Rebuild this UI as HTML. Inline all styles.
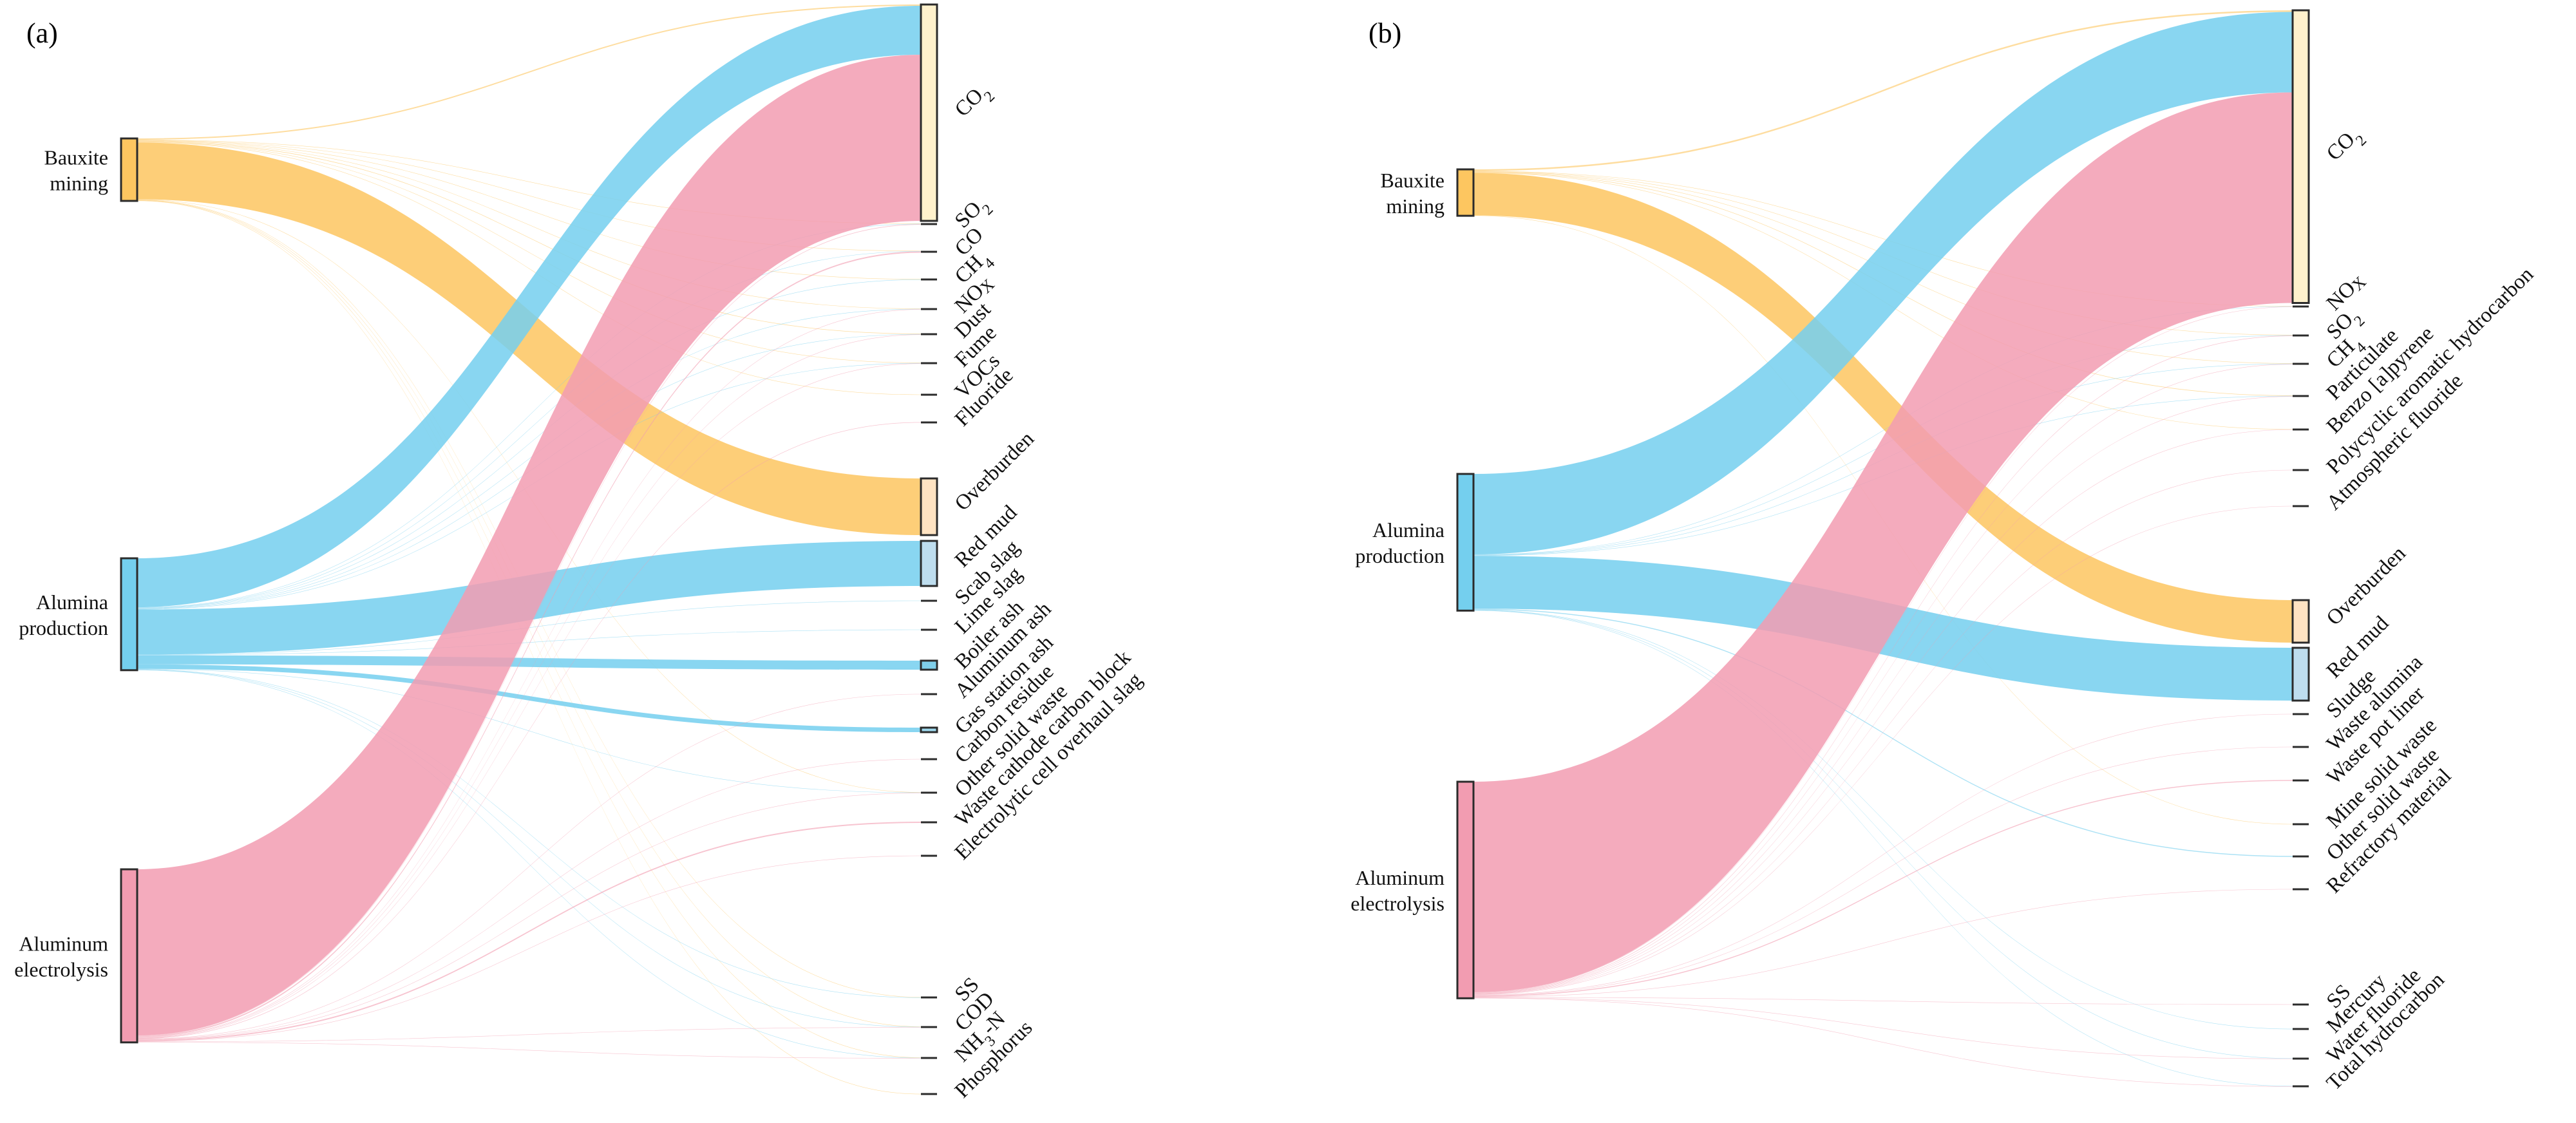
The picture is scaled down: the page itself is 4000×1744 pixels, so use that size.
<!DOCTYPE html>
<html><head><meta charset="utf-8"><style>
html,body{margin:0;padding:0;background:#fff}
svg, svg text{font-family:"Liberation Serif","DejaVu Serif",serif}
</style></head><body>
<svg id="chart" width="4000" height="1739" viewBox="0 0 4000 1739" xmlns="http://www.w3.org/2000/svg" font-family="Liberation Serif, serif">
<text x="41" y="66" font-size="44">(a)</text>
<text x="2125" y="66" font-size="44">(b)</text>
</svg>
<script>
// ---------- Panel (a) data ----------
const aSources = ["Bauxite|mining", "Alumina|production", "Aluminum|electrolysis"];
const aTargets = ["CO2","SO2","CO","CH4","NOX","Dust","Fume","VOCs","Fluoride","Overburden","Red mud","Scab slag","Lime slag","Boiler ash","Aluminum ash","Gas station ash","Carbon residue","Other solid waste","Waste cathode carbon block","Electrolytic cell overhaul slag","SS","COD","NH3-N","Phosphorus"];
const aLinkSrc = [0,0,0,0,0,0,0,0,0,0,0,0,0,0, 1,1,1,1,1,1,1,1,1,1,1,1,1,1,1,1, 2,2,2,2,2,2,2,2,2,2,2,2,2,2];
const aLinkTgt = ["CO2","SO2","CO","CH4","NOX","Dust","Fume","VOCs","Overburden","Other solid waste","SS","COD","NH3-N","Phosphorus",
 "CO2","SO2","CO","CH4","NOX","Dust","Fume","Red mud","Scab slag","Lime slag","Boiler ash","Gas station ash","Other solid waste","SS","COD","NH3-N",
 "CO2","SO2","CO","NOX","Dust","Fume","Fluoride","Aluminum ash","Carbon residue","Other solid waste","Waste cathode carbon block","Electrolytic cell overhaul slag","COD","NH3-N"];
const aLinkVal = [2,0.6,0.6,0.6,0.6,0.8,0.6,0.6,88,0.5,0.6,0.5,0.5,0.5,
 76,0.6,0.5,0.6,0.6,0.6,0.6,70,0.6,0.6,14,7,0.6,0.5,0.5,0.5,
 258,0.8,2,0.6,0.6,0.5,0.8,0.6,0.6,0.5,2,0.6,0.6,0.6];

// ---------- Panel (b) data ----------
const bSources = ["Bauxite|mining", "Alumina|production", "Aluminum|electrolysis"];
const bTargets = ["CO2","NOX","SO2","CH4","Particulate","Benzo [a]pyrene","Polycyclic aromatic hydrocarbon","Atmospheric fluoride","Overburden","Red mud","Sludge","Waste alumina","Waste pot liner","Mine solid waste","Other solid waste","Refractory material","SS","Mercury","Water fluoride","Total hydrocarbon"];
const bLinkSrc = [0,0,0,0,0,0,0,0, 1,1,1,1,1,1,1,1,1,1, 2,2,2,2,2,2,2,2,2,2,2,2,2,2,2];
const bLinkTgt = ["CO2","NOX","SO2","CH4","Particulate","Benzo [a]pyrene","Overburden","Mine solid waste",
 "CO2","NOX","SO2","CH4","Particulate","Red mud","Other solid waste","Mercury","Water fluoride","Total hydrocarbon",
 "CO2","NOX","SO2","CH4","Particulate","Benzo [a]pyrene","Polycyclic aromatic hydrocarbon","Atmospheric fluoride","Sludge","Waste alumina","Waste pot liner","Refractory material","SS","Water fluoride","Total hydrocarbon"];
const bLinkVal = [2.5,0.5,0.6,0.6,0.8,0.5,66,0.6,
 125,0.5,0.6,0.6,0.6,82,1.5,0.5,0.5,0.5,
 327,0.6,0.8,0.5,0.6,0.6,0.6,0.6,0.6,0.6,1.5,0.6,0.6,0.6,0.5];

// ---------- layout (not data) ----------
const srcColors = ["#FDC660","#74CFEE","#F29CB1"];
const layoutA = {srcX:188, tgtX:1430, nodeW:25, srcTop:[215,867,1350],
  tgtTop:[7,348,391,434,480,519,564,613,656,743,840,933,978,1026,1078,1130,1179,1231,1277,1329,1549,1595,1643,1699], panel:"a"};
const layoutB = {srcX:2263, tgtX:3560, nodeW:25, srcTop:[263,736,1214],
  tgtTop:[16,476,521,565,615,667,730,786,932,1006,1109,1160,1212,1280,1330,1381,1560,1598,1644,1687], panel:"b"};
const tgtFill = {"CO2":"#FFF1CC","Overburden":"#FFE3C2","Red mud":"#BEDDEE","Boiler ash":"#7FCFEA","Gas station ash":"#9ED8EE"};

const NS="http://www.w3.org/2000/svg";
const svg=document.getElementById('chart');
function mk(tag,attrs,parent){const e=document.createElementNS(NS,tag);for(const k in attrs)e.setAttribute(k,attrs[k]);(parent||svg).appendChild(e);return e;}
function slug(s){return s.toLowerCase().replace(/[^a-z0-9]+/g,'-').replace(/^-|-$/g,'');}

function addLabelText(t,name){
  const map={"CO2":["CO","2"],"SO2":["SO","2"],"CH4":["CH","4"],"NH3-N":["NH","3","-N"]};
  if(name==="NOX"){t.appendChild(document.createTextNode("NO"));const s=mk('tspan',{"font-size":"26","baseline-shift":"-4"},t);s.textContent="X";return;}
  if(map[name]){const m=map[name];t.appendChild(document.createTextNode(m[0]));const s=mk('tspan',{"font-size":"24","baseline-shift":"sub"},t);s.textContent=m[1];
    if(m[2]){const r=mk('tspan',{"baseline-shift":"0"},t);r.textContent=m[2];}return;}
  t.textContent=name;
}

function drawPanel(sources,targets,lSrc,lTgt,lVal,L){
  const g=mk('g',{});
  
  
  const links=lSrc.map((s,i)=>({s:s,t:targets.indexOf(lTgt[i]),v:lVal[i],i:i}));
  const srcOff=sources.map(()=>0);
  const tgtSum=targets.map(()=>0);
  links.forEach(l=>tgtSum[l.t]+=l.v);
  const srcSum=sources.map(()=>0);
  links.forEach(l=>srcSum[l.s]+=l.v);
  const tgtOff=targets.map(()=>0);
  const tgtBig=tgtSum.map(v=>v>=5);
  const tgtY0=targets.map((n,j)=>tgtBig[j]?L.tgtTop[j]:L.tgtTop[j]-tgtSum[j]/2);
  const bySrc=links.slice().sort((a,b)=>a.s-b.s||a.t-b.t);
  bySrc.forEach(l=>{l.y0=L.srcTop[l.s]+srcOff[l.s];srcOff[l.s]+=l.v;});
  const byTgt=links.slice().sort((a,b)=>a.t-b.t||a.s-b.s);
  byTgt.forEach(l=>{l.y1=tgtY0[l.t]+tgtOff[l.t];tgtOff[l.t]+=l.v;});
  const x0=L.srcX+L.nodeW, x1=L.tgtX, xm=(x0+x1)/2;
  const lg=mk('g',{},g);
  
  
  links.forEach(l=>{
    const w=Math.max(l.v,0.6);
    const a=l.y0, b=l.y1;
    const d=`M${x0},${a} C${xm},${a} ${xm},${b} ${x1},${b} L${x1},${b+w} C${xm},${b+w} ${xm},${a+w} ${x0},${a+w} Z`;
    const p=mk('path',{d:d,fill:srcColors[l.s],"fill-opacity":l.v<3?0.6:0.85},lg);
    
    
  });
  sources.forEach((s,i)=>{
    const r=mk('rect',{x:L.srcX,y:L.srcTop[i],width:L.nodeW,height:srcSum[i],fill:srcColors[i],stroke:"#2b2b2b","stroke-width":3},g);
    
    
    const parts=s.split('|');const cy=L.srcTop[i]+srcSum[i]/2;
    const t=mk('text',{x:L.srcX-20,y:cy-8,"text-anchor":"end","font-size":"32",fill:"#111","font-family":"Liberation Serif, serif"},g);
    
    
    const t1=mk('tspan',{x:L.srcX-20,dy:0},t);t1.textContent=parts[0];
    const t2=mk('tspan',{x:L.srcX-20,dy:40},t);t2.textContent=parts[1];
  });
  targets.forEach((n,j)=>{
    let cy;
    if(tgtBig[j]){
      const r=mk('rect',{x:L.tgtX,y:L.tgtTop[j],width:L.nodeW,height:tgtSum[j],fill:tgtFill[n]||"#cce",stroke:"#2b2b2b","stroke-width":3},g);
      
      
      cy=L.tgtTop[j]+tgtSum[j]/2;
    }else{
      const r=mk('rect',{x:L.tgtX,y:L.tgtTop[j]-1.5,width:L.nodeW,height:3,fill:"#2b2b2b"},g);
      
      
      cy=L.tgtTop[j];
    }
    const lx=L.tgtX+L.nodeW+33;
    const t=mk('text',{x:lx,y:cy+11,"font-size":"33",fill:"#111","font-family":"Liberation Serif, serif",transform:`rotate(-45 ${lx} ${cy})`},g);
    
    
    addLabelText(t,n);
  });
}
drawPanel(aSources,aTargets,aLinkSrc,aLinkTgt,aLinkVal,layoutA);
drawPanel(bSources,bTargets,bLinkSrc,bLinkTgt,bLinkVal,layoutB);
</script>
</body></html>
